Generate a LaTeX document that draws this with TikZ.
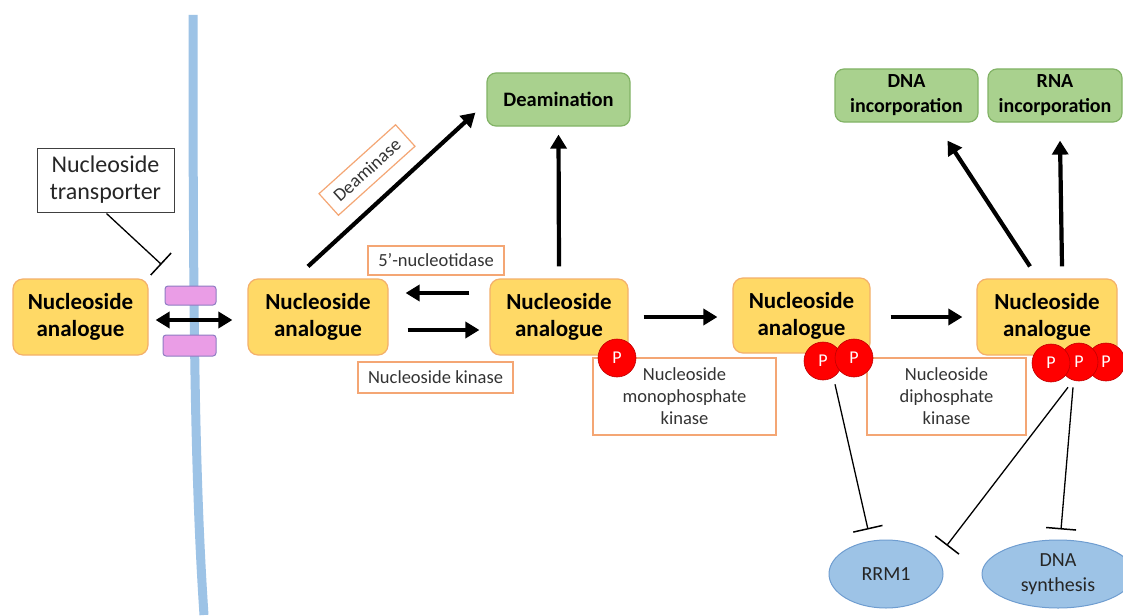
\documentclass[tikz,border=0pt]{standalone}
\usepackage{fontspec}
\setmainfont{Carlito}
\usetikzlibrary{arrows.meta,calc,shapes.geometric}
\definecolor{yfill}{HTML}{FFD966}
\definecolor{ydraw}{HTML}{F4B06A}
\definecolor{gfill}{HTML}{A9D18E}
\definecolor{gdraw}{HTML}{82B366}
\definecolor{lbl}{HTML}{F4A674}
\definecolor{bfill}{HTML}{9DC3E6}
\definecolor{bdraw}{HTML}{6F9DD0}
\definecolor{memb}{HTML}{9DC3E6}
\definecolor{pfill}{HTML}{EA9DE6}
\definecolor{pdraw}{HTML}{8E7CC3}
\definecolor{pred}{HTML}{FF0000}
\definecolor{pdred}{HTML}{C00000}
\begin{document}
\begin{tikzpicture}[x=1pt,y=-1pt,
  ybox/.style={draw=ydraw,fill=yfill,line width=1.2pt,rounded corners=10pt,
    inner sep=0pt,align=center,font=\bfseries\fontsize{23}{27}\selectfont},
  gbox/.style={draw=gdraw,fill=gfill,line width=1.2pt,rounded corners=9pt,
    inner sep=0pt,align=center,font=\bfseries\fontsize{20.5}{25}\selectfont},
  lbox/.style={draw=lbl,fill=white,line width=1.2pt,inner sep=0pt,align=center,
    text=black!80,font=\fontsize{18.5}{22}\selectfont},
  ell/.style={ellipse,draw=bdraw,fill=bfill,line width=1pt,inner sep=0pt,align=center,
    text=black!85,font=\fontsize{20}{25}\selectfont},
  pcirc/.style={circle,fill=pred,draw=pdred,line width=0.6pt,minimum size=38pt,inner sep=0pt,
    text=white,font=\fontsize{18}{20}\selectfont},
  pink/.style={draw=pdraw,fill=pfill,line width=1pt,rounded corners=3pt,inner sep=0pt},
  arr/.style={line width=4.2pt,-{Triangle[length=14pt,width=16pt]}},
  inh/.style={line width=1.3pt,-{Bar[width=30pt,line width=1.5pt]}}]
\useasboundingbox (0,0) rectangle (1123,615);
\fill[white] (0,0) rectangle (1123,615);
% membrane
\draw[memb,line width=9pt] (193,15) .. controls (193,330) and (195,480) .. (204,615);
\node[pink,minimum width=51pt,minimum height=19pt] (pk1) at (190.5,295.5) {};
\node[pink,minimum width=53pt,minimum height=21pt] (pk2) at (189.5,345.5) {};
% main boxes
\node[ybox,minimum width=135pt,minimum height=76pt] (b1) at (80.5,317) {Nucleoside\\analogue};
\node[ybox,minimum width=140pt,minimum height=76pt] (b2) at (318,317) {Nucleoside\\analogue};
\node[ybox,minimum width=138pt,minimum height=76pt] (b3) at (559,317) {Nucleoside\\analogue};
\node[ybox,minimum width=137pt,minimum height=75pt] (b4) at (801.5,315.5) {Nucleoside\\analogue};
\node[ybox,minimum width=140pt,minimum height=76pt] (b5) at (1047,317) {Nucleoside\\analogue};
% outcome boxes
\node[gbox,minimum width=143pt,minimum height=53pt] (deam) at (558.5,99.5) {Deamination};
\node[gbox,font=\bfseries\fontsize{20}{25}\selectfont,minimum width=143pt,minimum height=53pt] (dna) at (906.5,95.5) {DNA\\incorporation};
\node[gbox,font=\bfseries\fontsize{20}{25}\selectfont,minimum width=134pt,minimum height=53pt] (rna) at (1055,95.5) {RNA\\incorporation};
% transporter label
\node[draw=black!75,fill=white,line width=1pt,inner sep=0pt,align=center,
  minimum width=137pt,minimum height=64pt,font=\fontsize{24}{27}\selectfont,text=black!85]
  (trans) at (105.5,180) {Nucleoside\\transporter};
% enzyme labels
\node[lbox,minimum width=136pt,minimum height=29pt] (nt5) at (436,260.5) {5\textquoteright-nucleotidase};
\node[lbox,minimum width=155pt,minimum height=31pt] (nk) at (435.5,377.5) {Nucleoside kinase};
\node[lbox,minimum width=183pt,minimum height=77pt] (nmpk) at (684.5,396.5) {Nucleoside\\monophosphate\\kinase};
\node[lbox,minimum width=159pt,minimum height=77pt] (ndpk) at (946.5,396.5) {Nucleoside\\diphosphate\\kinase};
\node[lbox,rotate=42,minimum width=103pt,minimum height=29pt] (dase) at (367,170) {Deaminase};
% phosphates
\node[pcirc] (p3) at (617,358) {P};
\node[pcirc] (p4a) at (823,361) {P};
\node[pcirc] (p4b) at (854,358) {P};
\node[pcirc] (p5c) at (1106,362) {P};
\node[pcirc] (p5b) at (1079,362) {P};
\node[pcirc] (p5a) at (1051,363) {P};
% targets
\node[ell,minimum width=114pt,minimum height=68pt] (rrm) at (886,574) {RRM1};
\node[ell,minimum width=152pt,minimum height=68pt] (dsyn) at (1058,574) {DNA\\synthesis};
% arrows
\draw[line width=4.2pt,{Triangle[length=14pt,width=16pt]}-{Triangle[length=14pt,width=16pt]}]
  ($(b1.east)+(7,3)$) -- ($(b2.west)+(-15,3)$);
\draw[arr] ($(b3.west)+(-20,-24)$) -- ($(b2.east)+(17,-24)$);
\draw[arr] ($(b2.east)+(19,13)$) -- ($(b3.west)+(-10,13)$);
\draw[arr] ($(b2.north)+(-10,-12)$) -- ($(deam.south west)+(-11,-14)$);
\draw[arr] ($(b3.north)+(0,-12)$) -- ($(deam.south)+(0,8)$);
\draw[arr] ($(b3.east)+(15,0)$) -- ($(b4.west)+(-15,1.5)$);
\draw[arr] ($(b4.east)+(20,1.5)$) -- ($(b5.west)+(-14,0)$);
\draw[arr] ($(b5.north)+(-17,-12)$) -- ($(dna.south)+(41,18)$);
\draw[arr] ($(b5.north)+(15,-12)$) -- ($(rna.south)+(5,18)$);
% inhibition
\draw[inh] ($(trans.south)+(1,1)$) -- ($(pk1.north west)+(-3,-21)$);
\draw[inh] ($(p4a.south)+(12,4)$) -- ($(rrm.north)+(-18,-10)$);
\draw[inh] ($(p5b.south)+(-11,6)$) -- ($(rrm.north east)+(20,-4)$);
\draw[inh] ($(p5b.south)+(-6,6)$) -- ($(dsyn.north)+(3,-10)$);
\end{tikzpicture}
\end{document}
